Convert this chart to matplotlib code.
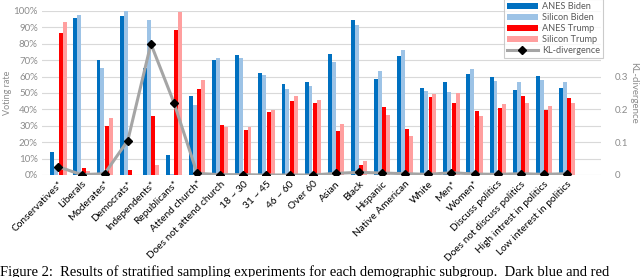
import matplotlib
matplotlib.use("Agg")
import matplotlib.pyplot as plt
from matplotlib.patches import Patch
from matplotlib.lines import Line2D
import numpy as np

categories = ["Conservatives*", "Liberals", "Moderates*", "Democrats*", "Independents*",
              "Republicans*", "Attend church*", "Does not attend church", "18 ~ 30", "31 ~ 45",
              "46 ~ 60", "Over 60", "Asian", "Black", "Hispanic", "Native American", "White",
              "Men*", "Women*", "Discuss politics", "Does not discuss politics",
              "High intrest in politics", "Low interest in politics"]

anes_biden = [14, 96, 70, 97, 65, 12, 48, 70, 73, 62, 55.5, 56.5, 73.5, 94.5, 58.5, 72.5,
              53, 56.5, 61.5, 59.5, 51.7, 60.5, 53.3]
silicon_biden = [5, 97.5, 65, 100, 94.5, 0.5, 42.5, 71.5, 71.5, 61, 52.5, 54, 69, 91.5, 63.5,
                 76.5, 51.5, 50.5, 64.5, 57.5, 56.5, 58.2, 56.5]
anes_trump = [86.5, 4, 30, 3.2, 36, 88.5, 52.5, 30.5, 27.5, 38.5, 45, 44, 27, 6, 41.5, 28,
              47.5, 44, 39, 41, 48.3, 39.6, 46.7]
silicon_trump = [93, 2.5, 35, 0.2, 6, 99.5, 58, 29, 29, 39.5, 48, 46, 31, 8.5, 36.5, 24,
                 49.5, 50, 36, 43, 43.8, 42, 43.6]
kl_div = [0.025, 0.001, 0.004, 0.105, 0.40, 0.22, 0.005, 0.001, 0.001, 0.0, 0.0, 0.0, 0.005,
          0.008, 0.006, 0.004, 0.002, 0.007, 0.003, 0.002, 0.004, 0.002, 0.004]

C_DB = "#0070C0"
C_LB = "#9DC3E6"
C_R = "#FF0000"
C_P = "#FF9F9F"
C_GRAY = "#A5A5A5"
C_TXT = "#8C8C8C"

plt.rcParams['font.family'] = ['Lato', 'DejaVu Sans']

fig = plt.figure(figsize=(6.4, 2.77), dpi=100)
ax = fig.add_axes([42/640, 1-175/277, (601-42)/640, (175-11)/277])

x = np.arange(len(categories))
w = 0.17
offs = [-0.265, -0.095, 0.095, 0.265]
series = [(anes_biden, C_DB, "ANES Biden"), (silicon_biden, C_LB, "Silicon Biden"),
          (anes_trump, C_R, "ANES Trump"), (silicon_trump, C_P, "Silicon Trump")]
for (vals, col, lab), o in zip(series, offs):
    ax.bar(x + o, np.array(vals) / 100.0, width=w, color=col, label=lab, zorder=3)

ax.set_xlim(-0.71, 23.47)
ax.set_ylim(0, 1.0)
ax.set_yticks(np.arange(0, 1.01, 0.1))
ax.set_yticklabels([f"{int(round(v*100))}%" for v in np.arange(0, 1.01, 0.1)],
                   color=C_TXT, fontsize=7)
ax.yaxis.grid(True, color="#D9D9D9", lw=0.8, zorder=0)
ax.set_axisbelow(True)
for s in ax.spines.values():
    s.set_visible(False)
ax.tick_params(axis='both', length=0, pad=3)
ax.set_xticks(x)
ax.set_xticklabels(categories, rotation=45, ha='right', va='top',
                   rotation_mode='anchor', fontsize=7.3, color='black')
ax.set_ylabel("Voting rate", color=C_TXT, fontsize=6.5, labelpad=1)

ax2 = ax.twinx()
ax2.plot(x, kl_div, color=C_GRAY, lw=2.2, marker='D', markersize=4.5,
         markerfacecolor='black', markeredgecolor='black', zorder=5)
ax2.set_ylim(0, 0.5)
ax2.set_yticks([0, 0.1, 0.2, 0.3])
ax2.set_yticklabels(["0", "0.1", "0.2", "0.3"], color=C_TXT, fontsize=7)
ax2.tick_params(axis='y', length=0, pad=10)
for s in ax2.spines.values():
    s.set_visible(False)
ax2.set_ylabel("KL-divergence", color=C_TXT, fontsize=7, rotation=270, labelpad=7)

handles = [Patch(facecolor=C_DB, label="ANES Biden"),
           Patch(facecolor=C_LB, label="Silicon Biden"),
           Patch(facecolor=C_R, label="ANES Trump"),
           Patch(facecolor=C_P, label="Silicon Trump"),
           Line2D([0], [0], color=C_GRAY, lw=2.2, marker='D', markersize=4,
                  markerfacecolor='black', markeredgecolor='black', label="KL-divergence")]
leg = fig.legend(handles=handles, loc='lower left', bbox_to_anchor=(504/640, 1-58/277),
                 fontsize=6.6, frameon=True, fancybox=False, edgecolor="#BFBFBF",
                 handlelength=3.4, handleheight=0.55, labelspacing=0.22, borderpad=0.3,
                 handletextpad=0.5, borderaxespad=0)
for t in leg.get_texts():
    t.set_color("#595959")
leg.get_frame().set_linewidth(0.8)

fig.text(0.0, 1-265/277, "Figure 2:  Results of stratified sampling experiments for each demographic subgroup.  Dark blue and red",
         family=['Liberation Serif'], fontsize=10.5, va='top', ha='left', color='black')

fig.savefig("out.png", dpi=100)
